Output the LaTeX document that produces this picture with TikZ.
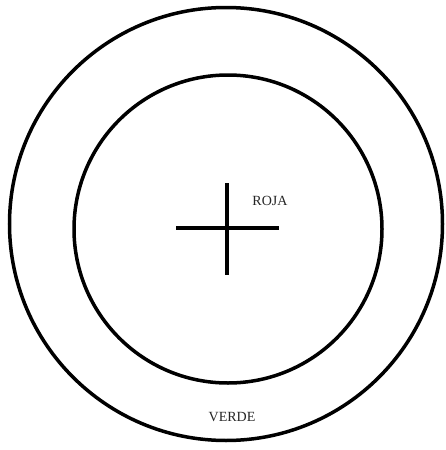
\documentclass[tikz,border=0pt]{standalone}
\usepackage{fontspec}
\setmainfont{Liberation Serif}
\begin{document}
\begin{tikzpicture}[x=1pt,y=-1pt,
  ring/.style={draw=black,line width=3.5pt},
  bar/.style={draw=black,line width=3.5pt},
  lbl/.style={font=\fontsize{14}{16}\selectfont,text=black!85}]
\useasboundingbox (0,0) rectangle (445,450);
\fill[white] (0,0) rectangle (445,450);
\node[ring,circle,minimum size=433pt,inner sep=0pt] (outer) at (226,224) {};
\node[ring,circle,minimum size=308pt,inner sep=0pt] (inner) at (228,229) {};
\coordinate (hl) at (176,228);
\coordinate (hr) at (279,228);
\coordinate (vt) at (227,183);
\coordinate (vb) at (227,275);
\draw[bar] (hl) -- (hr);
\draw[bar] (vt) -- (vb);
\node[lbl] (roja) at (270,201) {ROJA};
\node[lbl] (verde) at (232,417) {VERDE};
\end{tikzpicture}
\end{document}
